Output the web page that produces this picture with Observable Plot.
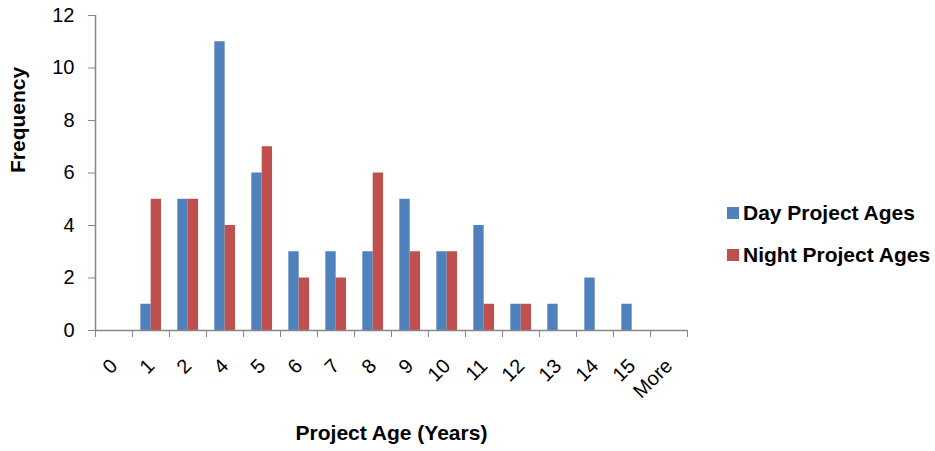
<!DOCTYPE html>
<html>
<head>
<meta charset="utf-8">
<script src="https://cdn.jsdelivr.net/npm/d3@7"></script>
<script src="https://cdn.jsdelivr.net/npm/@observablehq/plot@0.6"></script>
<style>
  html, body { margin: 0; padding: 0; background: #fff; }
  #wrap { position: relative; width: 935px; height: 451px; font-family: "Liberation Sans", Arial, sans-serif; }
  #legend { position: absolute; left: 727px; top: 200px; font-weight: bold; font-size: 21px; color: #000; }
  .row { display: flex; align-items: center; height: 26px; margin-bottom: 16px; white-space: nowrap; }
  .sw { width: 12px; height: 12px; margin-right: 4px; }
</style>
</head>
<body>
<div id="wrap"></div>
<script>
const categories = ["0","1","2","4","5","6","7","8","9","10","11","12","13","14","15","More"];
const dayValues   = [0,1,5,11,6,3,3,3,5,3,4,1,1,2,1,0];
const nightValues = [0,5,5,4,7,2,2,6,3,3,1,1,0,0,0,0];
const seriesNames = ["Day Project Ages", "Night Project Ages"];
const seriesColors = ["#4F81BD", "#C0504D"];
const yTicks = [0,2,4,6,8,10,12];

const rows = categories.map((c, i) => ({cat: c, i, day: dayValues[i], night: nightValues[i]}));
const axisColor = "#888";

const chart = Plot.plot({
  width: 935,
  height: 451,
  marginLeft: 95,
  marginRight: 248,
  marginTop: 15,
  marginBottom: 121,
  style: {fontFamily: "'Liberation Sans', Arial, sans-serif", fontSize: "20px", color: "#000", background: "#fff"},
  x: {type: "linear", domain: [0, categories.length], axis: null},
  y: {domain: [0, 12], axis: null},
  marks: [
    Plot.rectY(rows, {x1: d => d.i + 0.225, x2: d => d.i + 0.505, y1: 0, y2: "day", fill: seriesColors[0]}),
    Plot.rectY(rows, {x1: d => d.i + 0.505, x2: d => d.i + 0.785, y1: 0, y2: "night", fill: seriesColors[1]}),
    Plot.axisY({ticks: yTicks, tickSize: 7, tickPadding: 14, stroke: axisColor, fill: "#000", fontSize: 20, label: null, tickFormat: d => String(d)}),
    Plot.axisX({ticks: d3.range(0, categories.length + 1), tickSize: 7, stroke: axisColor, tickFormat: () => "", label: null}),
    Plot.ruleX([0], {stroke: axisColor, strokeWidth: 1.5}),
    Plot.ruleY([0], {stroke: axisColor, strokeWidth: 1.5}),
    Plot.text(rows, {x: d => d.i + 0.5, y: 0, text: "cat", dy: 32, rotate: -45, textAnchor: "end", fontSize: 20, fill: "#000"}),
    Plot.text(["Project Age (Years)"], {frameAnchor: "bottom", dy: 109, fontWeight: "bold", fontSize: 21, fill: "#000"}),
    Plot.text(["Frequency"], {frameAnchor: "left", dx: -77, rotate: -90, fontWeight: "bold", fontSize: 21, fill: "#000"})
  ]
});
const wrap = document.getElementById("wrap");
wrap.appendChild(chart);

const legend = document.createElement("div");
legend.id = "legend";
seriesNames.forEach((name, k) => {
  const row = document.createElement("div");
  row.className = "row";
  const sw = document.createElement("div");
  sw.className = "sw";
  sw.style.background = seriesColors[k];
  const t = document.createElement("span");
  t.textContent = name;
  row.appendChild(sw);
  row.appendChild(t);
  legend.appendChild(row);
});
wrap.appendChild(legend);
</script>
</body>
</html>
